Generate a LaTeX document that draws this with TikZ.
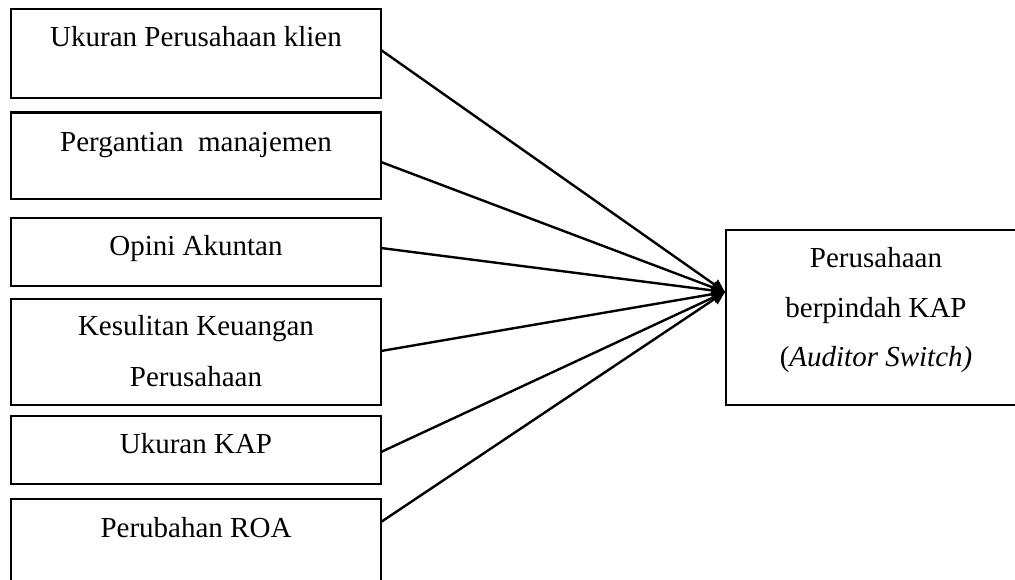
\documentclass[tikz,border=0pt]{standalone}
\usepackage{fontspec}
\setmainfont{Liberation Serif}
\usetikzlibrary{arrows.meta}
\begin{document}
\begin{tikzpicture}[x=1pt,y=-1pt,
  box/.style={draw,line width=2.2pt,inner sep=0pt,outer sep=0pt,anchor=north west},
  lbl/.style={anchor=base,inner sep=0pt,font=\fontsize{29}{35}\selectfont},
  conn/.style={line width=2.4pt,-{Triangle[length=13pt,width=12pt]}}]
\useasboundingbox (0,0) rectangle (1015,579);
\node[box,minimum width=370pt,minimum height=89pt] (b1) at (11,9) {};
\node[box,minimum width=370pt,minimum height=86.5pt] (b2) at (11,112.5) {};
\node[box,minimum width=370pt,minimum height=68pt] (b3) at (11,218) {};
\node[box,minimum width=370pt,minimum height=106pt] (b4) at (11,299) {};
\node[box,minimum width=370pt,minimum height=68pt] (b5) at (11,416) {};
\node[box,minimum width=370pt,minimum height=121pt] (b6) at (11,499) {};
\node[box,minimum width=304pt,minimum height=175pt] (rb) at (726,230) {};
\node[lbl] (t1) at (196,46) {Ukuran Perusahaan klien};
\node[lbl] (t2) at (196,151.5) {Pergantian\ \ manajemen};
\node[lbl] (t3) at (196,255) {Opini Akuntan};
\node[lbl] (t4a) at (196,335) {Kesulitan Keuangan};
\node[lbl] (t4b) at (196,386.5) {Perusahaan};
\node[lbl] (t5) at (196,453) {Ukuran KAP};
\node[lbl] (t6) at (196,537) {Perubahan ROA};
\node[lbl] (r1) at (876,267) {Perusahaan};
\node[lbl] (r2) at (876,317) {berpindah KAP};
\node[lbl] (r3) at (876,366) {(\textit{Auditor Switch)}};
\coordinate (tip) at (725,292);
\draw[conn] ([yshift=-41pt]b1.north east) -- (tip);
\draw[conn] ([yshift=-49.5pt]b2.north east) -- (tip);
\draw[conn] ([yshift=-30pt]b3.north east) -- (tip);
\draw[conn] ([yshift=-52pt]b4.north east) -- (tip);
\draw[conn] ([yshift=-36pt]b5.north east) -- (tip);
\draw[conn] ([yshift=-23pt]b6.north east) -- (tip);
\end{tikzpicture}
\end{document}
